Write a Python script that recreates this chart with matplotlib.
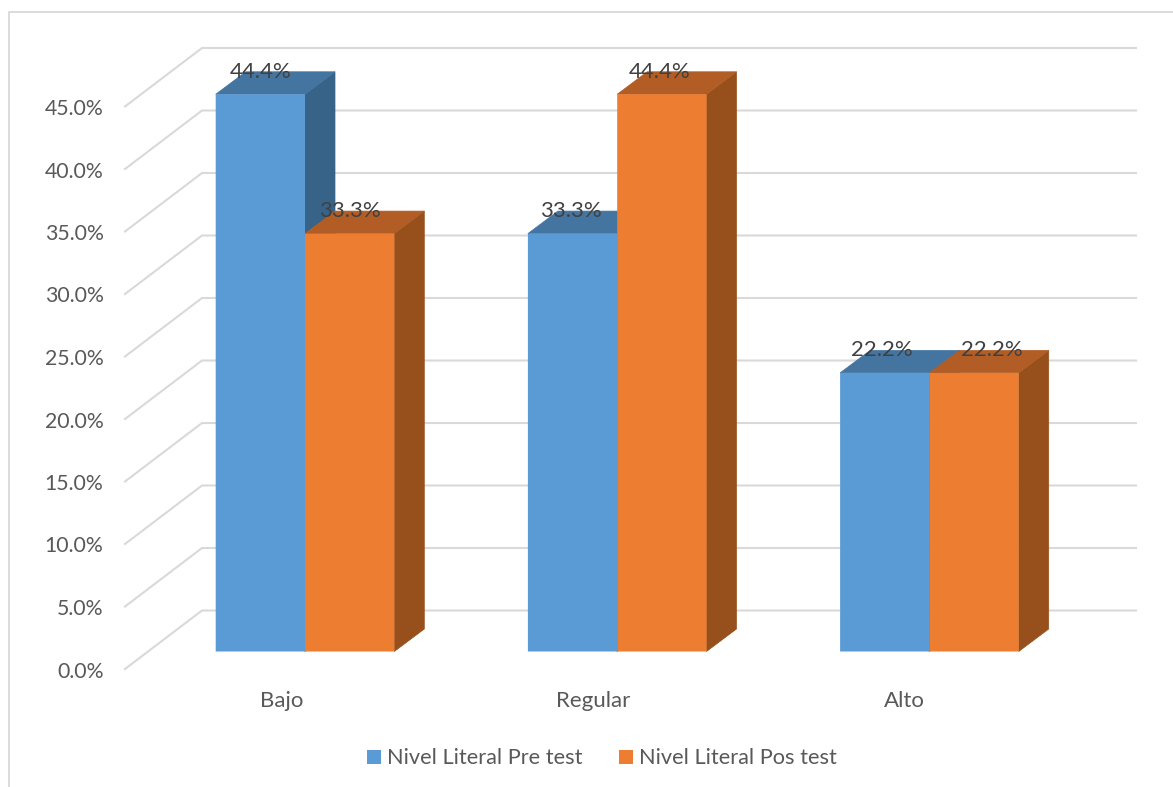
import numpy as np
import matplotlib
matplotlib.use("Agg")
import matplotlib.pyplot as plt

categories = ["Bajo", "Regular", "Alto"]
pre_test = [44.4, 33.3, 22.2]
pos_test = [33.3, 44.4, 22.2]
y_ticks = [0, 5, 10, 15, 20, 25, 30, 35, 40, 45]

W, H = 1173, 787
X0, X_STEP = 305.0, 312.2      # px of first category, px per category
Y0, Y_SCALE = 651.5, 12.55     # px of the bar floor, px per percent

plt.rcParams["font.family"] = ["Lato", "DejaVu Sans"]

fig = plt.figure(figsize=(W / 100, H / 100), dpi=100)
ax = fig.add_axes([0, 0, 1, 1])
ax.set_xlim(-X0 / X_STEP, (W - X0) / X_STEP)
ax.set_ylim((Y0 - H) / Y_SCALE, Y0 / Y_SCALE)
ax.axis("off")


def dx(px):
    return px / X_STEP


def dy(px):
    return px / Y_SCALE


bar_w = dx(89.3)
depth_x = dx(30)
depth_y = dy(22.5)
x = np.arange(len(categories))

# outer chart border, open on the right and bottom
ax.plot([9 / W, 9 / W, 1], [0, 1 - 12 / H, 1 - 12 / H], transform=ax.transAxes,
        color="#D9D9D9", lw=1.3, zorder=1)

# walls: back lines plus the diagonal running to the tick label
wall_x0, wall_x1, wall_x2 = (125 - X0) / X_STEP, (202 - X0) / X_STEP, (1136 - X0) / X_STEP
for v in y_ticks:
    back = dy(Y0 - 610.5) + v * 12.5 / Y_SCALE
    front = dy(Y0 - 669) + v * 12.5 / Y_SCALE
    ax.plot([wall_x0, wall_x1, wall_x2], [front, back, back],
            color="#D9D9D9", lw=1.5, zorder=1, solid_joinstyle="miter")
    ax.text((103.5 - X0) / X_STEP, front - dy(2.5), f"{v:.1f}%", ha="right", va="center",
            fontsize=15.3, color="#595959")


def draw_series(xs, values, face, top, side, label):
    for xi, v in zip(xs, values):
        ax.fill([xi + bar_w, xi + bar_w + depth_x, xi + bar_w + depth_x, xi + bar_w],
                [0, depth_y, v + depth_y, v], color=side, lw=0.5, zorder=2)
        ax.fill([xi, xi + depth_x, xi + bar_w + depth_x, xi + bar_w],
                [v, v + depth_y, v + depth_y, v], color=top, lw=0.5, zorder=2)
    return ax.bar(xs, values, bar_w, align="edge", color=face, label=label, zorder=2, lw=0, snap=False)


h1 = draw_series(x - bar_w, pre_test, "#5B9BD5", "#4474A0", "#376388", "Nivel Literal Pre test")
h2 = draw_series(x, pos_test, "#ED7D31", "#B25D25", "#97501B", "Nivel Literal Pos test")

# data labels sit on the top face; a few are nudged sideways off the bar centre
pre_shift = [0, -1.5, -3]
pos_shift = [0, -2, 18]
for xs, values, shifts in ((x - bar_w, pre_test, pre_shift), (x, pos_test, pos_shift)):
    for xi, v, s in zip(xs, values, shifts):
        ax.text(xi + bar_w / 2 + dx(s), v + dy(22.5), f"{v:.1f}%", ha="center", va="center",
                fontsize=16, color="#404040", zorder=5)

for xi, name in zip(x, categories):
    ax.text(xi - dx(23 + xi), dy(Y0 - 701), name, ha="center", va="center", fontsize=16, color="#595959")

ax.legend(handles=[h1, h2], loc="center", bbox_to_anchor=(602 / W, 1 - 758.5 / H), ncol=2,
          frameon=False, fontsize=15.7, labelcolor="#595959", handlelength=0.64, handleheight=0.64,
          handletextpad=0.27, columnspacing=1.67, borderpad=0, borderaxespad=0)

fig.savefig("out.png", dpi=100, facecolor="white")
